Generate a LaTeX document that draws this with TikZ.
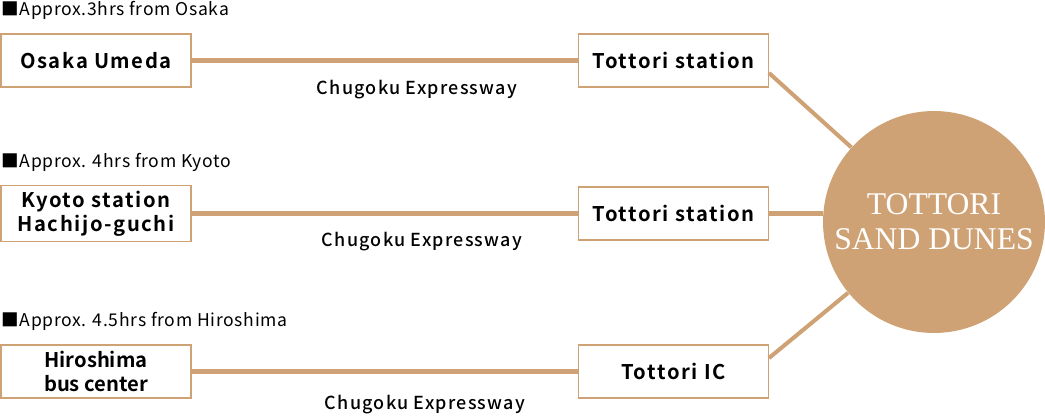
\documentclass[tikz,border=0pt]{standalone}
\usepackage{fontspec}
\usepackage{xcolor}
\usepackage{tikz}
\usetikzlibrary{positioning}
\newfontfamily\jpfont{Noto Sans CJK JP}[LetterSpace=4]
\newfontfamily\jpbold{Noto Sans CJK JP Bold}[LetterSpace=8]
\newfontfamily\jpboldtight{Noto Sans CJK JP Bold}
\newfontfamily\jpmed{Noto Sans CJK JP Medium}[LetterSpace=7]
\newfontfamily\dunefont{Liberation Serif}
\definecolor{sand}{RGB}{207,162,117}

\begin{document}
\begin{tikzpicture}[
  x=0.02cm, y=-0.02cm,
  stop/.style  = {draw=sand, line width=0.6pt, fill=white,
                  minimum width=3.8cm, minimum height=1.06cm,
                  align=center, font=\jpbold\fontsize{11.5}{13.5}\selectfont},
  head/.style  = {anchor=west, inner sep=0pt, font=\jpfont\fontsize{10}{12}\selectfont},
  way/.style   = {inner sep=0pt, font=\jpmed\fontsize{10.2}{12}\selectfont},
  road/.style  = {draw=sand, line width=2.3pt},
  dunes/.style = {circle, fill=sand, minimum size=4.44cm, inner sep=0pt,
                  align=center, text=white, font=\dunefont\fontsize{18}{20}\selectfont}
]
\useasboundingbox (0,0) rectangle (1045,416);

% destination
\node[dunes] (dunes) at (934,222) {TOTTORI\\SAND DUNES};

% from Osaka
\node[head] (h1) at (1,10) {■Approx.3hrs from Osaka};
\node[stop] (s1) at (96,60.5)    {Osaka Umeda};
\node[stop] (t1) at (673.5,60.5) {Tottori station};
\node[way]  (w1) at (417,90)     {Chugoku Expressway};

% from Kyoto
\node[head] (h2) at (1,162) {■Approx. 4hrs from Kyoto};
\node[stop] (s2) at (96,213.5)    {Kyoto station\\Hachijo-guchi};
\node[stop] (t2) at (673.5,213.5) {Tottori station};
\node[way]  (w2) at (422,242)     {Chugoku Expressway};

% from Hiroshima
\node[head] (h3) at (1,321) {■Approx. 4.5hrs from Hiroshima};
\node[stop, font=\jpboldtight\fontsize{11.5}{13.5}\selectfont]
            (s3) at (96,371.5)    {Hiroshima\\bus center};
\node[stop] (t3) at (673.5,371.5) {Tottori IC};
\node[way]  (w3) at (425,405)     {Chugoku Expressway};

\draw[road] (s1) -- (t1);
\draw[road] (s2) -- (t2);
\draw[road] (s3) -- (t3);
\draw[road] ([yshift=-0.25cm]t1.east) -- (dunes);
\draw[road] (t2.east) -- (t2.east -| dunes.west);
\draw[road] ([yshift=0.27cm]t3.east) -- (dunes);
\end{tikzpicture}
\end{document}
